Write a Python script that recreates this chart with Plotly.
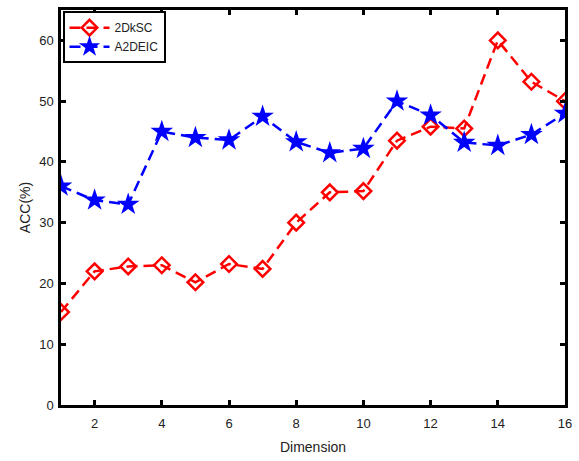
import plotly.graph_objects as go

dims = list(range(1, 17))
acc_2dksc = [15.3, 22.0, 22.8, 23.0, 20.2, 23.2, 22.4, 30.0, 35.0, 35.2, 43.5, 45.8, 45.5, 60.0, 53.2, 50.0]
acc_a2deic = [36.0, 33.7, 33.0, 45.0, 44.0, 43.6, 47.5, 43.3, 41.5, 42.2, 50.0, 47.7, 43.2, 42.7, 44.5, 48.0]
x_ticks = [2, 4, 6, 8, 10, 12, 14, 16]
y_ticks = [0, 10, 20, 30, 40, 50, 60]

fig = go.Figure()
fig.add_trace(go.Scatter(
    x=dims, y=acc_2dksc, name="2DkSC", mode="lines+markers",
    line=dict(color="#ff0000", width=2.5, dash="11px,6px"),
    marker=dict(symbol="diamond-open", size=12, color="#ff0000", line=dict(width=2.5, color="#ff0000")),
))
fig.add_trace(go.Scatter(
    x=dims, y=acc_a2deic, name="A2DEIC", mode="lines+markers",
    line=dict(color="#0000ff", width=2.5, dash="11px,6px"),
    marker=dict(symbol="star", size=17, color="#0000ff", line=dict(width=0)),
))

axis_common = dict(
    showline=True, linecolor="black", linewidth=2.5, mirror="ticks",
    ticks="inside", ticklen=5, tickwidth=2.5, tickcolor="black",
    showgrid=False, zeroline=False,
    tickfont=dict(family="Liberation Sans, Arial", size=13, color="#222"),
)
fig.update_xaxes(range=[1, 16], tickvals=x_ticks, ticklabelstandoff=5,
                 title=dict(text="Dimension", font=dict(family="Liberation Sans, Arial", size=14, color="#222"), standoff=12), **axis_common)
fig.update_yaxes(range=[0, 65], tickvals=y_ticks, ticklabelstandoff=2,
                 title=dict(text="ACC(%)", font=dict(family="Liberation Sans, Arial", size=14, color="#222"), standoff=6), **axis_common)

fig.update_layout(
    width=579, height=461,
    margin=dict(l=61, r=14, t=7, b=56),
    plot_bgcolor="white", paper_bgcolor="white",
    font=dict(family="Liberation Sans, Arial"),
    legend=dict(x=0.003, y=0.997, xanchor="left", yanchor="top",
                bordercolor="black", borderwidth=2, bgcolor="white",
                font=dict(size=12, color="#222"), tracegroupgap=0,
                itemwidth=40),
)
fig.write_html("out.html", config={"displayModeBar": False},
               post_script="document.body.style.margin='0px';")
